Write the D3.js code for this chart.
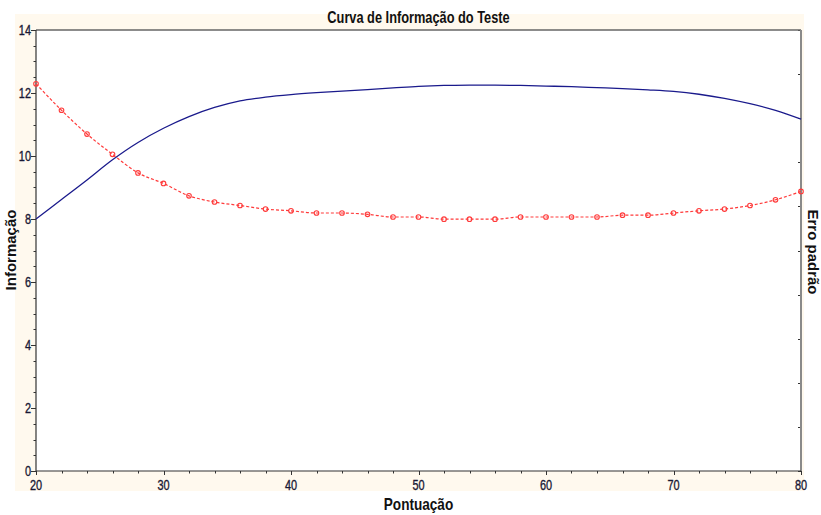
<!DOCTYPE html>
<html>
<head>
<meta charset="utf-8">
<script src="https://cdn.jsdelivr.net/npm/d3@7"></script>
<style>
  html, body { margin: 0; padding: 0; background: #ffffff; }
  svg { display: block; }
  text { font-family: "Liberation Sans", Arial, sans-serif; }
</style>
</head>
<body>
<svg id="chart" width="821" height="515"></svg>
<script>
// Score points (x axis) shared by both curves
const scores = d3.range(20, 81, 2);

// Test information at each score
const information = [
  8.00, 8.62, 9.24, 9.88, 10.43, 10.88, 11.25, 11.54, 11.75, 11.87,
  11.95, 12.01, 12.06, 12.11, 12.16, 12.21, 12.24, 12.25, 12.25, 12.24,
  12.22, 12.20, 12.17, 12.14, 12.10, 12.05, 11.96, 11.83, 11.66, 11.45,
  11.17
];

// Standard error of measurement at each score
const standardError = [
  0.439, 0.409, 0.382, 0.359, 0.338, 0.326, 0.312, 0.305, 0.301, 0.297,
  0.295, 0.2925, 0.2925, 0.291, 0.288, 0.288, 0.2855, 0.2855, 0.2855, 0.288,
  0.288, 0.288, 0.288, 0.290, 0.290, 0.2925, 0.295, 0.297, 0.301, 0.3075,
  0.317
];

const xTicks = [20, 30, 40, 50, 60, 70, 80];
const yTicks = [0, 2, 4, 6, 8, 10, 12, 14];

const svg = d3.select("#chart");
const m = { left: 36, right: 801, top: 30, bottom: 471 };
const squeeze = 0.78; // condensed look for tick labels and titles

// Cream panel behind title and axes, white plotting area
svg.append("rect").attr("x", 15).attr("y", 14).attr("width", 789).attr("height", 477)
  .attr("fill", "#fff9ee");
svg.append("rect").attr("x", m.left).attr("y", m.top)
  .attr("width", m.right - m.left).attr("height", m.bottom - m.top).attr("fill", "#ffffff");

const x = d3.scaleLinear().domain([20, 80]).range([m.left, m.right]);
const y = d3.scaleLinear().domain([0, 14]).range([m.bottom, m.top]);
const y2 = d3.scaleLinear().domain([0, 0.5]).range([m.bottom, m.top]);

// Ticks on the score axis (every 2 points, longer at labelled values)
svg.append("g").selectAll("line").data(d3.range(20, 81, 2)).join("line")
  .attr("x1", d => Math.round(x(d)) + 0.5).attr("x2", d => Math.round(x(d)) + 0.5)
  .attr("y1", m.bottom).attr("y2", d => m.bottom + (d % 10 === 0 ? 4 : 2.5))
  .attr("stroke", "#333").attr("stroke-width", 1);
// Ticks on the information axis (every 0.5)
svg.append("g").selectAll("line").data(d3.range(0, 14.01, 0.5)).join("line")
  .attr("y1", d => Math.round(y(d)) + 0.5).attr("y2", d => Math.round(y(d)) + 0.5)
  .attr("x1", m.left).attr("x2", d => m.left - (d % 2 === 0 ? 5 : 2.5))
  .attr("stroke", "#333").attr("stroke-width", 1);
// Ticks on the standard error axis
svg.append("g").selectAll("line").data(d3.range(0, 0.501, 0.05)).join("line")
  .attr("y1", d => Math.round(y2(d)) + 0.5).attr("y2", d => Math.round(y2(d)) + 0.5)
  .attr("x1", m.right).attr("x2", m.right - 3)
  .attr("stroke", "#333").attr("stroke-width", 1);

// Frame
svg.append("line").attr("x1", m.left).attr("x2", m.right).attr("y1", m.top).attr("y2", m.top)
  .attr("stroke", "#666").attr("stroke-width", 1.5);
svg.append("line").attr("x1", m.right).attr("x2", m.right).attr("y1", m.top).attr("y2", m.bottom)
  .attr("stroke", "#8a8a8a").attr("stroke-width", 2);
svg.append("line").attr("x1", m.left).attr("x2", m.left).attr("y1", m.top).attr("y2", m.bottom)
  .attr("stroke", "#333").attr("stroke-width", 1.2);
svg.append("line").attr("x1", m.left).attr("x2", m.right).attr("y1", m.bottom).attr("y2", m.bottom)
  .attr("stroke", "#333").attr("stroke-width", 1.2);

// Tick labels
const labelStyle = sel => sel
  .attr("font-size", 14).attr("fill", "#181834")
  .attr("stroke", "#181834").attr("stroke-width", 0.35);
svg.append("g").selectAll("text").data(xTicks).join("text")
  .attr("transform", d => `translate(${x(d)},${m.bottom + 19}) scale(${squeeze},1)`)
  .attr("text-anchor", "middle").call(labelStyle)
  .text(d => d);
svg.append("g").selectAll("text").data(yTicks).join("text")
  .attr("transform", d => `translate(${m.left - 5},${y(d) + 5}) scale(${squeeze},1)`)
  .attr("text-anchor", "end").call(labelStyle)
  .text(d => d);

// Information curve
svg.append("path")
  .datum(scores.map((s, i) => [s, information[i]]))
  .attr("d", d3.line().x(d => x(d[0])).y(d => y(d[1])).curve(d3.curveCatmullRom))
  .attr("fill", "none").attr("stroke", "#1a1a8c").attr("stroke-width", 1.3);

// Standard error curve with markers
const se = scores.map((s, i) => [s, standardError[i]]);
svg.append("path")
  .datum(se)
  .attr("d", d3.line().x(d => x(d[0])).y(d => y2(d[1])).curve(d3.curveMonotoneX))
  .attr("fill", "none").attr("stroke", "#ff3a3a").attr("stroke-width", 1.2)
  .attr("stroke-dasharray", "3,2");
svg.append("g").selectAll("circle").data(se).join("circle")
  .attr("cx", d => x(d[0])).attr("cy", d => y2(d[1])).attr("r", 2.3)
  .attr("fill", "none").attr("stroke", "#ff3a3a").attr("stroke-width", 1.1);

// Titles
svg.append("text")
  .attr("transform", `translate(${(m.left + m.right) / 2},23) scale(0.8,1)`)
  .attr("text-anchor", "middle").attr("font-size", 16).attr("font-weight", "bold")
  .attr("fill", "#111").text("Curva de Informação do Teste");
svg.append("text")
  .attr("transform", `translate(${(m.left + m.right) / 2},510) scale(0.85,1)`)
  .attr("text-anchor", "middle").attr("font-size", 16).attr("font-weight", "bold")
  .attr("fill", "#111").text("Pontuação");
svg.append("text")
  .attr("transform", "translate(16,250) rotate(-90)")
  .attr("text-anchor", "middle")
  .attr("font-size", 15).attr("font-weight", "bold").attr("fill", "#111")
  .text("Informação");
svg.append("text")
  .attr("transform", "translate(808,252) rotate(90)")
  .attr("text-anchor", "middle")
  .attr("font-size", 15).attr("font-weight", "bold").attr("fill", "#111")
  .text("Erro padrão");
</script>
</body>
</html>
